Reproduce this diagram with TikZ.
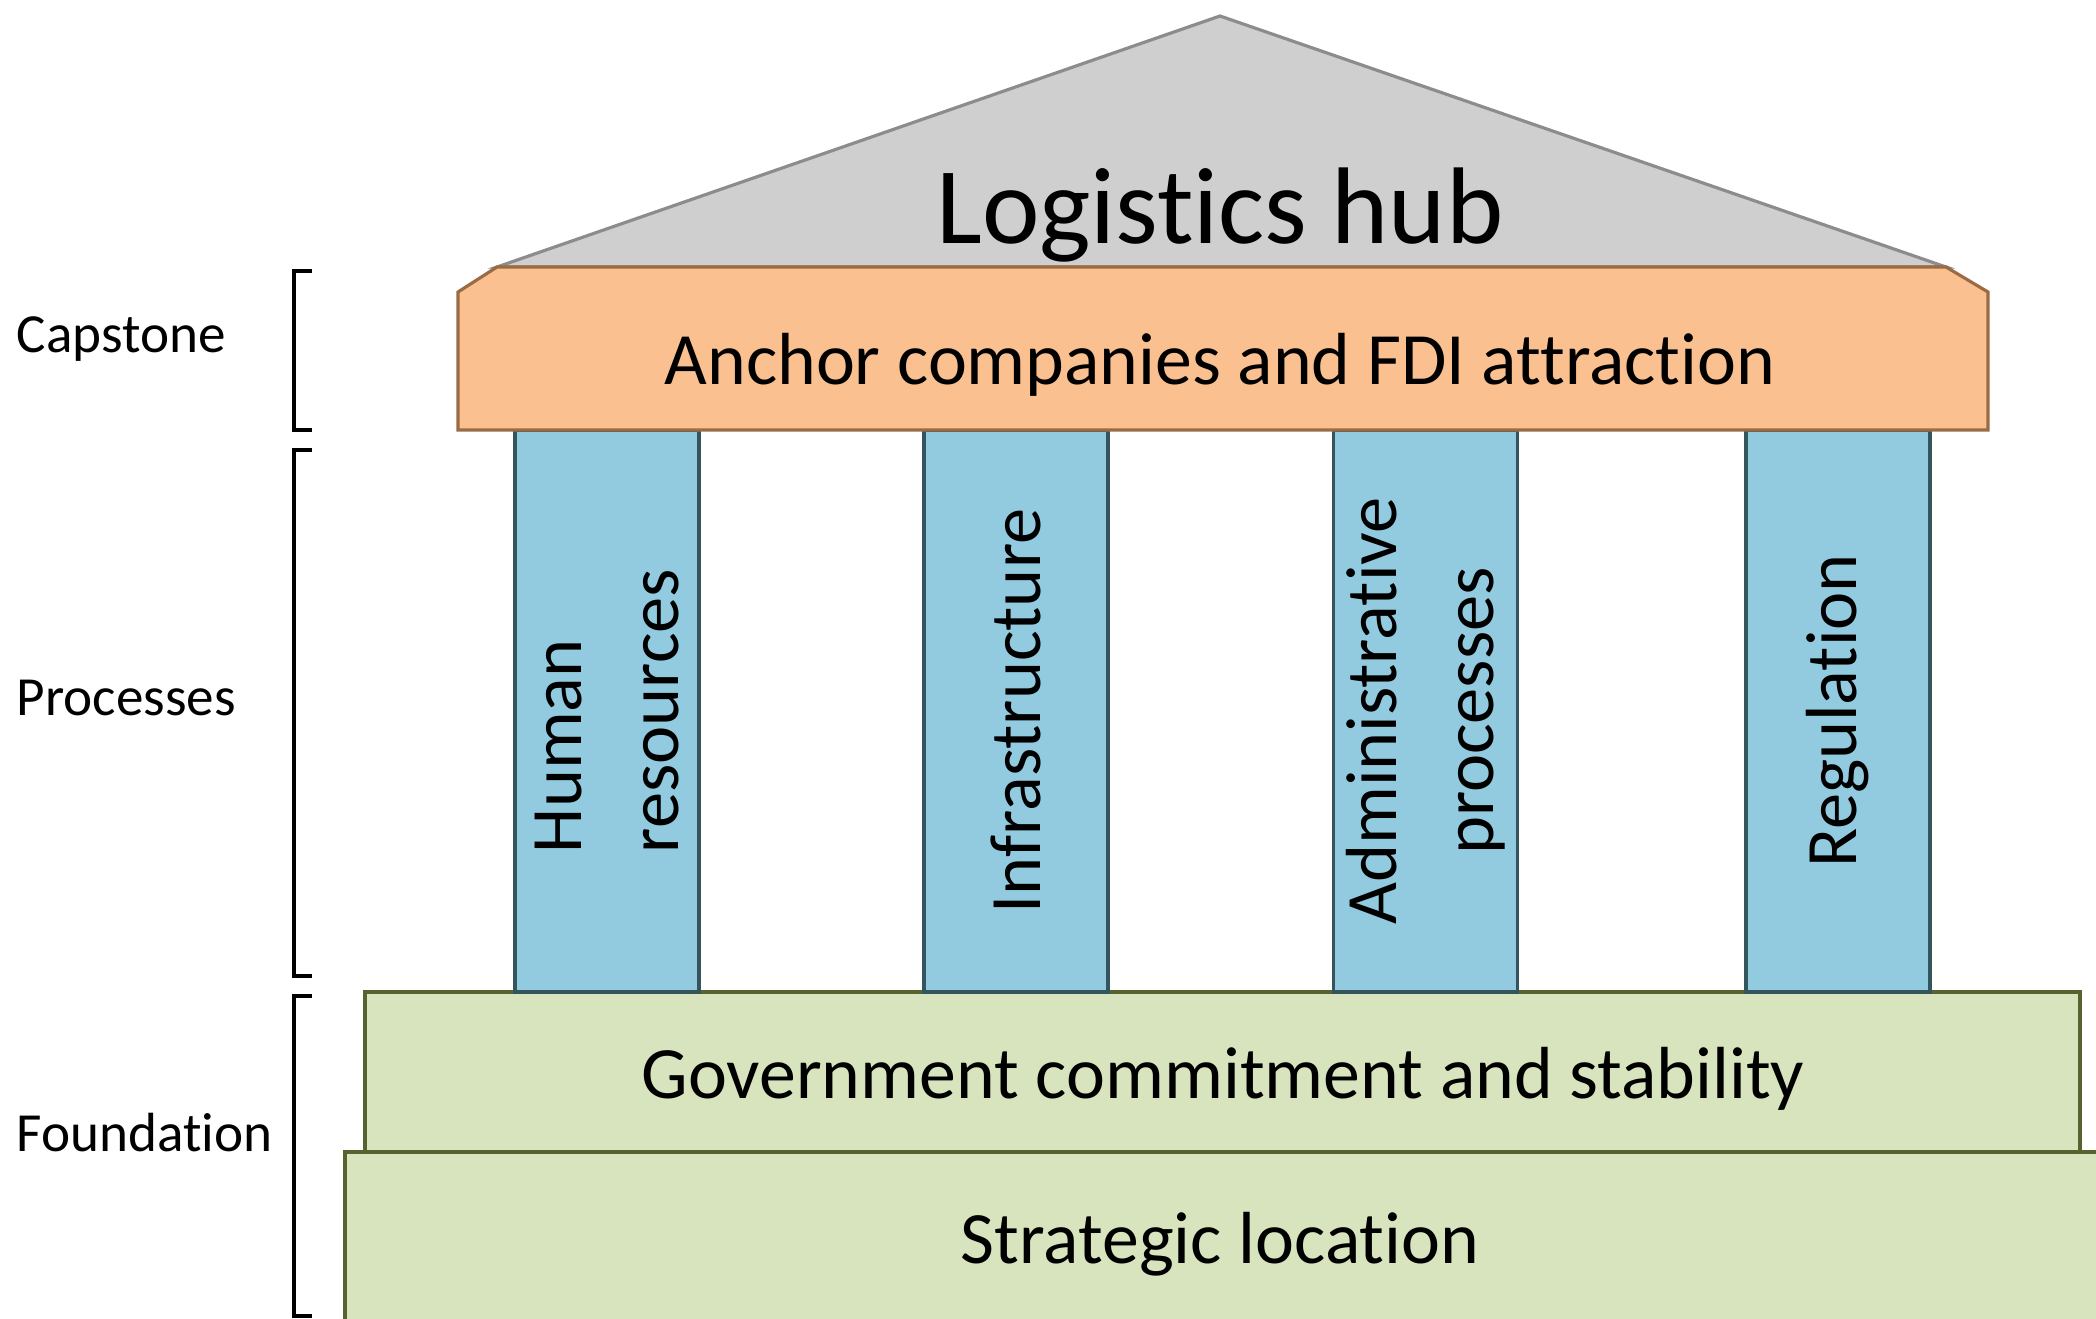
\documentclass[tikz,border=0pt]{standalone}
\usepackage{fontspec}
\setmainfont{Carlito}[Ligatures=NoCommon]
\definecolor{roofgray}{HTML}{CFCFCF}
\definecolor{roofline}{HTML}{8C8C8C}
\definecolor{capfill}{HTML}{FAC08F}
\definecolor{capline}{HTML}{9A6B45}
\definecolor{pillarfill}{HTML}{92CBE0}
\definecolor{pillarline}{HTML}{34555C}
\definecolor{slabfill}{HTML}{D7E4BD}
\definecolor{slabline}{HTML}{56632F}
\tikzset{
  pillar/.style={draw=pillarline, fill=pillarfill, line width=0.9pt, rotate=90,
    minimum width=5.62cm, minimum height=1.84cm, inner sep=0pt, align=center,
    font=\fontsize{20.6}{27.5}\selectfont},
  slab/.style={draw=slabline, fill=slabfill, line width=0.9pt, inner sep=0pt,
    font=\fontsize{21}{26}\selectfont},
  sidetag/.style={anchor=west, inner sep=0pt, font=\fontsize{15.7}{19}\selectfont},
  bracketline/.style={line width=1.3pt}
}
\begin{document}
\begin{tikzpicture}
  \useasboundingbox (0,0) rectangle (20.96,13.18);
  % foundation slabs
  \node[slab, minimum width=17.6cm, minimum height=1.71cm] (loc) at (12.25,0.805) {};
  \node at (12.20,0.74) [font=\fontsize{21}{26}\selectfont] (locText) {Strategic location};
  \node[slab, minimum width=17.15cm, minimum height=1.60cm] (gov) at (12.225,2.46) {};
  \node at (12.23,2.39) [font=\fontsize{21}{26}\selectfont] (govText) {Government commitment and stability};
  % pillars
  \node[pillar, align=left] (hr) at (6.07,6.07) {Human\\resources};
  \node[pillar] (infra) at (10.16,6.07) {Infrastructure};
  \node[pillar] (admin) at (14.255,6.07) {Administrative\\processes};
  \node[pillar] (reg) at (18.38,6.07) {Regulation};
  % roof
  \draw[draw=roofline, fill=roofgray, line width=0.9pt]
    (4.97,10.51) -- (12.20,13.02) -- (19.46,10.51) -- cycle;
  \node[font=\fontsize{31}{37}\selectfont] (hub) at (12.20,11.03) {Logistics hub};
  % capstone with chamfered top corners
  \draw[draw=capline, fill=capfill, line width=0.9pt]
    (4.58,8.88) -- (4.58,10.26) -- (4.97,10.51) -- (19.46,10.51)
    -- (19.88,10.26) -- (19.88,8.88) -- cycle;
  \node[font=\fontsize{21}{26}\selectfont] (anchor) at (12.20,9.53) {Anchor companies and FDI attraction};
  % side brackets and their tags
  \draw[bracketline] (3.12,10.47) -- (2.94,10.47) -- (2.94,8.88) -- (3.12,8.88);
  \draw[bracketline] (3.12,8.68) -- (2.94,8.68) -- (2.94,3.42) -- (3.12,3.42);
  \draw[bracketline] (3.12,3.22) -- (2.94,3.22) -- (2.94,0.02) -- (3.12,0.02);
  \node[sidetag] (capstone) at (0.16,9.79) {Capstone};
  \node[sidetag] (processes) at (0.16,6.20) {Processes};
  \node[sidetag] (foundation) at (0.16,1.85) {Foundation};
\end{tikzpicture}
\end{document}
